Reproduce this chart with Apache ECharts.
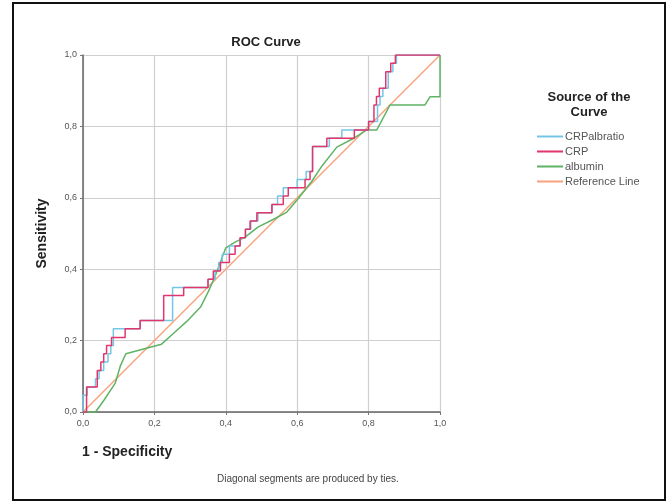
<!DOCTYPE html>
<html><head><meta charset="utf-8">
<script src="https://cdn.jsdelivr.net/npm/echarts@6/dist/echarts.min.js"></script>
<style>html,body{margin:0;padding:0;background:#fff}#c{width:670px;height:503px}</style>
</head><body><div id="c"></div>
<script>
// ---- data (1 - specificity, sensitivity) ----
var tickLabels = ['0,0','0,2','0,4','0,6','0,8','1,0'];
var legendNames = ['CRPalbratio','CRP','albumin','Reference Line'];

var crpAlbX = [0,0,0.012,0.012,0.035,0.035,0.045,0.045,0.058,0.058,0.07,0.07,0.078,0.078,0.085,0.085,0.16,0.16,0.251,0.251,0.351,0.351,0.37,0.37,0.38,0.38,0.39,0.39,0.41,0.41,0.44,0.44,0.455,0.455,0.47,0.47,0.49,0.49,0.53,0.53,0.545,0.545,0.561,0.561,0.6,0.6,0.625,0.625,0.643,0.643,0.69,0.69,0.725,0.725,0.8,0.8,0.825,0.825,0.832,0.832,0.84,0.84,0.855,0.855,0.868,0.868,0.878,0.878,1.0];
var crpAlbY = [0,0.047,0.047,0.07,0.07,0.093,0.093,0.116,0.116,0.14,0.14,0.163,0.163,0.186,0.186,0.233,0.233,0.256,0.256,0.349,0.349,0.372,0.372,0.395,0.395,0.419,0.419,0.442,0.442,0.465,0.465,0.488,0.488,0.512,0.512,0.535,0.535,0.558,0.558,0.581,0.581,0.605,0.605,0.628,0.628,0.651,0.651,0.674,0.674,0.744,0.744,0.767,0.767,0.79,0.79,0.814,0.814,0.86,0.86,0.884,0.884,0.907,0.907,0.953,0.953,0.977,0.977,1.0,1.0];

var crpX = [0,0.01,0.01,0.04,0.04,0.05,0.05,0.058,0.058,0.066,0.066,0.08,0.08,0.118,0.118,0.16,0.16,0.226,0.226,0.282,0.282,0.35,0.35,0.365,0.365,0.385,0.385,0.41,0.41,0.426,0.426,0.44,0.44,0.455,0.455,0.468,0.468,0.487,0.487,0.529,0.529,0.561,0.561,0.575,0.575,0.589,0.589,0.622,0.622,0.636,0.636,0.643,0.643,0.683,0.683,0.76,0.76,0.8,0.8,0.815,0.815,0.822,0.822,0.83,0.83,0.848,0.848,0.862,0.862,0.875,0.875,1.0];
var crpY = [0,0,0.07,0.07,0.116,0.116,0.14,0.14,0.163,0.163,0.186,0.186,0.209,0.209,0.233,0.233,0.256,0.256,0.326,0.326,0.349,0.349,0.372,0.372,0.395,0.395,0.419,0.419,0.442,0.442,0.465,0.465,0.488,0.488,0.512,0.512,0.535,0.535,0.558,0.558,0.581,0.581,0.605,0.605,0.628,0.628,0.628,0.628,0.651,0.651,0.674,0.674,0.744,0.744,0.767,0.767,0.79,0.79,0.814,0.814,0.86,0.86,0.884,0.884,0.907,0.907,0.953,0.953,0.977,0.977,1.0,1.0];

var albX = [0,0.035,0.06,0.09,0.105,0.12,0.175,0.22,0.253,0.29,0.33,0.35,0.37,0.385,0.4,0.426,0.454,0.49,0.538,0.571,0.603,0.64,0.67,0.711,0.757,0.795,0.823,0.86,0.958,0.972,1.0,1.0];
var albY = [0,0,0.035,0.08,0.13,0.163,0.178,0.19,0.22,0.253,0.295,0.335,0.38,0.42,0.46,0.476,0.49,0.518,0.542,0.56,0.598,0.645,0.69,0.742,0.766,0.79,0.79,0.86,0.86,0.883,0.883,1.0];

var refX = [0,1];
var refY = [0,1];

function pairs(xs, ys){ return xs.map(function(x,i){ return [x, ys[i]]; }); }

var chart = echarts.init(document.getElementById('c'), null, {renderer:'canvas'});
var tickFmt = function(v){ return tickLabels[Math.round(v/0.2)]; };
var lineSeries = function(name, xs, ys, color, z){
  return {name:name, type:'line', data:pairs(xs,ys), showSymbol:false, symbol:'none',
    lineStyle:{color:color, width:1.5}, itemStyle:{color:color}, z:z, animation:false};
};
chart.setOption({
  animation:false,
  title:{text:'ROC Curve', left:261, top:31, textAlign:'center',
    textStyle:{fontFamily:'Liberation Sans, Arial', fontSize:13, fontWeight:'bold', color:'#222'}},
  grid:{left:83, right:230, top:55, bottom:91},
  xAxis:{type:'value', min:0, max:1, interval:0.2,
    axisLine:{show:true, onZero:false, lineStyle:{color:'#666', width:1.5}},
    axisTick:{show:true, length:3, lineStyle:{color:'#777'}},
    axisLabel:{formatter:tickFmt, fontSize:9, color:'#555', fontFamily:'Liberation Sans, Arial', margin:7},
    splitLine:{show:true, lineStyle:{color:'#cfcfcf', width:1.2}}},
  yAxis:{type:'value', min:0, max:1, interval:0.2,
    name:'Sensitivity', nameLocation:'middle', nameGap:34, nameRotate:90,
    nameTextStyle:{fontFamily:'Liberation Sans, Arial', fontSize:14, fontWeight:'bold', color:'#222'},
    axisLine:{show:true, onZero:false, lineStyle:{color:'#666', width:1.5}},
    axisTick:{show:true, length:3, lineStyle:{color:'#777'}},
    axisLabel:{formatter:tickFmt, fontSize:9, color:'#555', fontFamily:'Liberation Sans, Arial', margin:6},
    splitLine:{show:true, lineStyle:{color:'#cfcfcf', width:1.2}}},
  legend:{data:legendNames, orient:'vertical', left:532, top:126, itemWidth:26, itemHeight:2, itemGap:4,
    icon:'rect', textStyle:{fontFamily:'Liberation Sans, Arial', fontSize:11, color:'#555', padding:[0,0,0,-3]}},
  graphic:[
    {type:'rect', shape:{x:13, y:3, width:652, height:497}, style:{fill:'none', stroke:'#111', lineWidth:2}, silent:true},
    {type:'text', x:589, y:90, style:{text:'Source of the\nCurve', align:'center', fill:'#222',
      font:'bold 13px "Liberation Sans", Arial', lineHeight:15}},
    {type:'text', x:82, y:445, style:{text:'1 - Specificity', fill:'#222', font:'bold 14px "Liberation Sans", Arial'}},
    {type:'text', x:217, y:474, style:{text:'Diagonal segments are produced by ties.', fill:'#444', font:'10px "Liberation Sans", Arial'}}
  ],
  series:[
    lineSeries('Reference Line', refX, refY, '#f6a27d', 2),
    lineSeries('albumin', albX, albY, '#5fb364', 3),
    lineSeries('CRPalbratio', crpAlbX, crpAlbY, '#74c6e6', 4),
    lineSeries('CRP', crpX, crpY, '#e2356b', 5)
  ]
});
</script></body></html>
